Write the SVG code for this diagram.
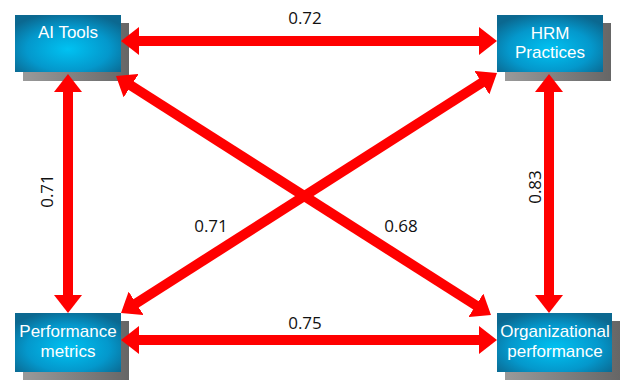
<svg xmlns="http://www.w3.org/2000/svg" width="620" height="383" viewBox="0 0 620 383">
<defs>
<radialGradient id="boxg" cx="0.5" cy="0.6" r="0.65">
<stop offset="0" stop-color="#00c2f2"/>
<stop offset="0.6" stop-color="#0498cc"/>
<stop offset="1" stop-color="#0b6890"/>
</radialGradient>
<linearGradient id="shg" x1="0" y1="0" x2="1" y2="0">
<stop offset="0" stop-color="#9a9a9a"/>
<stop offset="1" stop-color="#666"/>
</linearGradient>
<marker id="ah" viewBox="0 0 18 28" refX="2" refY="14" markerWidth="18" markerHeight="28" markerUnits="userSpaceOnUse" orient="auto-start-reverse">
<path d="M0,0 L18,14 L0,28 z" fill="#f00"/>
</marker>
<style>
.sh{fill:url(#shg)}
.bx{fill:url(#boxg)}
.nt{font-family:"Liberation Sans",Arial,sans-serif;font-size:17px;fill:#fff;text-anchor:middle}
.ln{stroke:#f00;stroke-width:10;fill:none;marker-start:url(#ah);marker-end:url(#ah)}
.lb{font-family:"Open Sans","Liberation Sans",sans-serif;font-size:17px;fill:#111;text-anchor:middle}
</style>
</defs>
<rect width="620" height="383" fill="#fff"/>
<g id="ai-tools">
<rect class="sh" x="23" y="23" width="106" height="58"/>
<rect class="bx" x="15" y="15" width="106" height="57"/>
<text class="nt" x="68" y="38">AI Tools</text>
</g>
<g id="hrm-practices">
<rect class="sh" x="505" y="23" width="106" height="58"/>
<rect class="bx" x="497" y="15" width="106" height="57"/>
<text class="nt" x="550" y="39">HRM</text>
<text class="nt" x="550" y="58">Practices</text>
</g>
<g id="performance-metrics">
<rect class="sh" x="23" y="321" width="106" height="59"/>
<rect class="bx" x="15" y="313" width="106" height="59"/>
<text class="nt" x="68" y="337">Performance</text>
<text class="nt" x="68" y="357">metrics</text>
</g>
<g id="organizational-performance">
<rect class="sh" x="505" y="321" width="115" height="59"/>
<rect class="bx" x="497" y="313" width="115" height="59"/>
<text class="nt" x="555" y="337">Organizational</text>
<text class="nt" x="555" y="357">performance</text>
</g>
<g id="connectors">
<line class="ln" x1="137" y1="41" x2="481" y2="41"/>
<line class="ln" x1="137" y1="340" x2="481" y2="340"/>
<line class="ln" x1="68" y1="90" x2="68" y2="297"/>
<line class="ln" x1="549" y1="90" x2="549" y2="297"/>
<line class="ln" x1="129.5" y1="84.6" x2="477.5" y2="306.4"/>
<line class="ln" x1="483.5" y1="81.6" x2="134.5" y2="304.4"/>
</g>
<g id="labels">
<text class="lb" x="305" y="24">0.72</text>
<text class="lb" x="305" y="329">0.75</text>
<text class="lb" transform="rotate(-90 53 191)" x="53" y="191">0.71</text>
<text class="lb" transform="rotate(-90 541 187)" x="541" y="187">0.83</text>
<text class="lb" x="211" y="232">0.71</text>
<text class="lb" x="401" y="232">0.68</text>
</g>
</svg>
